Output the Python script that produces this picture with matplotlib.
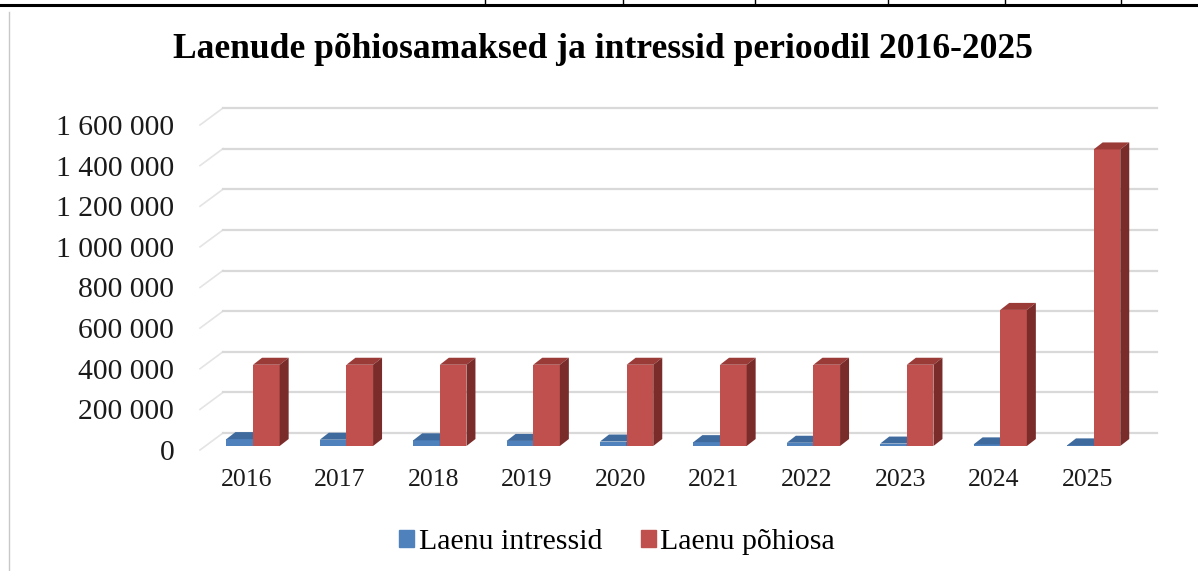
import matplotlib.pyplot as plt
from matplotlib.patches import Polygon, Patch
from matplotlib.lines import Line2D

years = ["2016", "2017", "2018", "2019", "2020", "2021", "2022", "2023", "2024", "2025"]
intressid = [34000, 31000, 28000, 25000, 22000, 19000, 16000, 12000, 8000, 3000]
pohiosa = [400000, 400000, 400000, 400000, 400000, 400000, 400000, 400000, 670000, 1460000]
yticks = [0, 200000, 400000, 600000, 800000, 1000000, 1200000, 1400000, 1600000]

W, H = 1198, 571
SERIF = "Liberation Serif"

fig = plt.figure(figsize=(W / 100, H / 100), dpi=100)
# front plane of the pseudo-3D box
ax_l, ax_r, ax_b, ax_t = 200, 1134, 450, 125
ax = fig.add_axes([ax_l / W, 1 - ax_b / H, (ax_r - ax_l) / W, (ax_b - ax_t) / H])
ax.set_xlim(-0.5, 9.5)
ax.set_ylim(0, 1600000)

# pixel -> data helpers
px_x = (ax_r - ax_l) / 10.0
px_y = (ax_b - ax_t) / 1600000.0


def dx(p):
    return p / px_x


def dy(p):
    return p / px_y


# depth offsets
back_x, back_y = dx(23), dy(17)
face_x, face_y = dx(5.4), dy(4)
deep_x, deep_y = dx(9), dy(7)

grid_col = "#d9d9d9"
for v in yticks:
    ax.plot([-0.5, -0.5 + back_x], [v, v + back_y], color="#e4e4e4", lw=1.2,
            clip_on=False, zorder=1)
    ax.plot([-0.5 + back_x, 9.5 + back_x], [v + back_y, v + back_y], color=grid_col,
            lw=1.6, clip_on=False, zorder=1)

w = 0.285
series = [
    (intressid, -0.275, "#4F81BD", "#3E6A9E", "#2E5279"),
    (pohiosa, 0.01, "#C0504D", "#9A3B38", "#7A2C2A"),
]

for i in range(len(years)):
    for vals, off, c_front, c_top, c_side in series:
        x0 = i + off + face_x
        v = vals[i]
        b = face_y
        ax.bar(x0, v, width=w, bottom=b, align="edge", color=c_front,
               linewidth=0, zorder=3 + i)
        top = b + v
        ax.add_patch(Polygon([(x0, top), (x0 + w, top), (x0 + w + deep_x, top + deep_y),
                              (x0 + deep_x, top + deep_y)], closed=True,
                             facecolor=c_top, lw=0, zorder=3 + i))
        ax.add_patch(Polygon([(x0 + w, b), (x0 + w, top), (x0 + w + deep_x, top + deep_y),
                              (x0 + w + deep_x, b + deep_y)], closed=True,
                             facecolor=c_side, lw=0, zorder=3 + i))

ax.set_xticks(range(len(years)))
ax.set_xticklabels(years, fontfamily=SERIF, fontsize=18.5, color="#1a1a1a")
ax.set_yticks(yticks)
ax.set_yticklabels([f"{v:,}".replace(",", " ") for v in yticks],
                   fontfamily=SERIF, fontsize=21.3, color="#1a1a1a")
ax.tick_params(axis="x", length=0, pad=14)
ax.tick_params(axis="y", length=0, pad=18.5)
for s in ax.spines.values():
    s.set_visible(False)

fig.text(603 / W, 1 - 58 / H, "Laenude põhiosamaksed ja intressid perioodil 2016-2025",
         ha="center", va="baseline", fontsize=25.6, fontweight="bold", fontfamily=SERIF)

handles = [Patch(color="#4F81BD"), Patch(color="#C0504D")]
fig.legend(handles, ["Laenu intressid", "Laenu põhiosa"], loc="center",
           bbox_to_anchor=(617 / W, 1 - 542 / H), ncol=2, frameon=False,
           prop={"family": SERIF, "size": 21.5}, handlelength=0.5, handleheight=0.5,
           handletextpad=0.15, columnspacing=1.3)

# page borders around the chart
fig.add_artist(Line2D([0, 1], [1 - 5 / H, 1 - 5 / H], color="black", lw=2.2,
                      transform=fig.transFigure))
for xv in [485, 623, 755, 888, 1005, 1121]:
    fig.add_artist(Line2D([xv / W, xv / W], [1, 1 - 5 / H], color="black", lw=1,
                          transform=fig.transFigure))
fig.add_artist(Line2D([9 / W, 9 / W], [0, 1 - 12 / H], color="#c8c8c8", lw=1,
                      transform=fig.transFigure))

fig.savefig("out.png", dpi=100)
